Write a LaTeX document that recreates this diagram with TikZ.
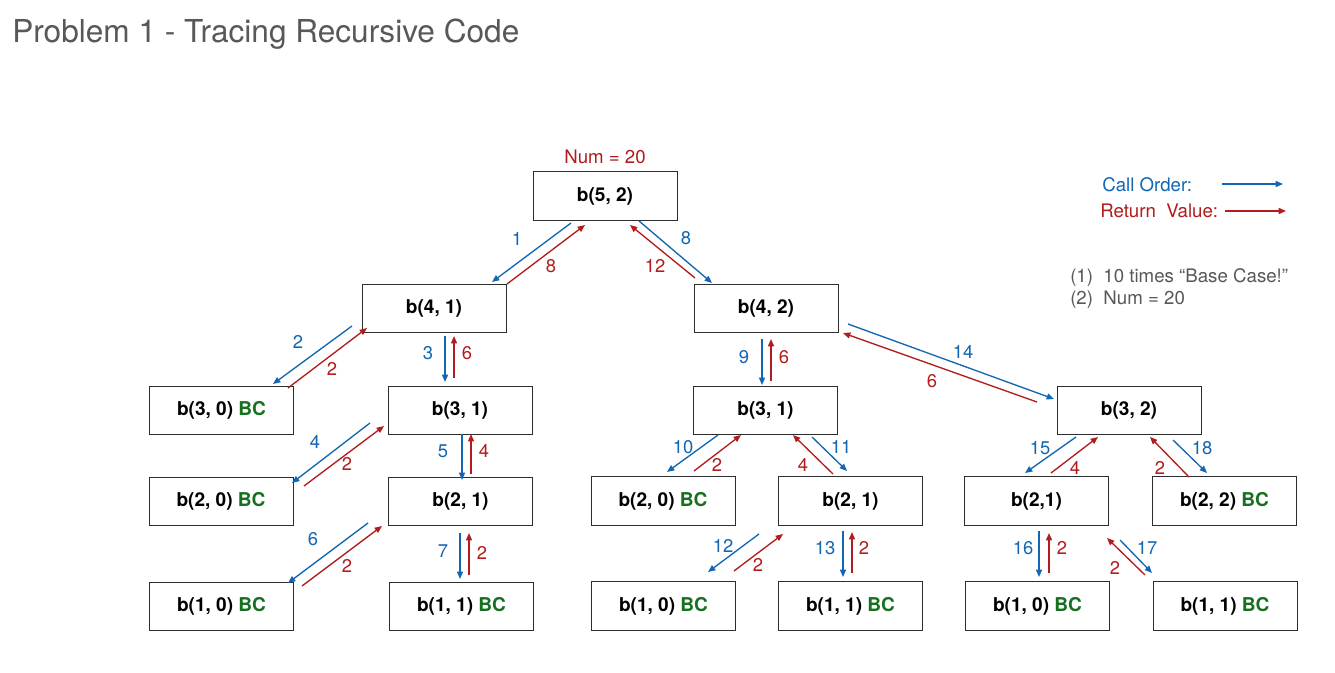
\documentclass[tikz,border=0pt]{standalone}
\usepackage{fontspec}
\setmainfont{TeX Gyre Heros}
\usetikzlibrary{arrows.meta}
\definecolor{cblue}{RGB}{18,102,178}
\definecolor{cred}{RGB}{178,28,28}
\definecolor{cgreen}{RGB}{22,112,32}
\definecolor{cgray}{RGB}{88,88,88}
\definecolor{cbox}{RGB}{45,45,45}
\newcommand\carrow[4]{\coordinate (#1s) at (#3); \coordinate (#1e) at (#4); \draw[#2] (#1s) -- (#1e);}
\newcommand\BC{\textcolor{cgreen}{BC}}
\begin{document}
\begin{tikzpicture}[x=0.75pt,y=-0.75pt,
  box/.style={draw=cbox,line width=0.75pt,minimum width=108pt,minimum height=36.5pt,inner sep=0pt,font=\bfseries\fontsize{14.3}{16}\selectfont},
  call/.style={draw=cblue,line width=1pt,-{Triangle[length=5.5pt,width=4.5pt]}},
  ret/.style={draw=cred,line width=1pt,-{Triangle[length=5.5pt,width=4.5pt]}},
  lb/.style={text=cblue,font=\fontsize{13.8}{15}\selectfont,inner sep=0pt},
  lr/.style={text=cred,font=\fontsize{13.8}{15}\selectfont,inner sep=0pt},
  note/.style={font=\fontsize{14}{16.5}\selectfont,inner sep=0pt,anchor=west}]
\useasboundingbox[fill=white] (0,0) rectangle (1335,673);
% title
\node[anchor=base west,inner sep=0pt,text=cgray,font=\fontsize{23.7}{26}\selectfont] (title) at (12,43) {Problem 1 - Tracing Recursive Code};
% legend
\node[note,text=cblue] (lcall) at (1102,185) {Call Order:};
\node[note,text=cred] (lret) at (1100,211) {Return\ \ Value:};
\carrow{lgc}{call}{1222,184}{1283,184}
\carrow{lgr}{ret}{1225,211}{1286,211}
\node[note,text=cgray,align=left,anchor=north west] (notes) at (1070,268) {(1)\ \ 10 times “Base Case!”\\(2)\ \ Num = 20};
% nodes
\node[box] (b52) at (605,196) {b(5, 2)};
\node[text=cred,font=\fontsize{14}{16}\selectfont,inner sep=0pt] (num) at (605,157) {Num = 20};
\node[box] (b41) at (434,308.5) {b(4, 1)};
\node[box] (b42) at (766,308.5) {b(4, 2)};
\node[box] (b30) at (221.5,410.5) {b(3, 0) \BC};
\node[box] (b31a) at (460,410.5) {b(3, 1)};
\node[box] (b31b) at (765.5,410.5) {b(3, 1)};
\node[box] (b32) at (1129,410.5) {b(3, 2)};
\node[box] (b20a) at (221,501.5) {b(2, 0) \BC};
\node[box] (b21a) at (460.5,501.5) {b(2, 1)};
\node[box] (b20b) at (663,501) {b(2, 0) \BC};
\node[box] (b21b) at (850.5,501) {b(2, 1)};
\node[box] (b21c) at (1036.5,501) {b(2,1)};
\node[box] (b22) at (1224.5,501) {b(2, 2) \BC};
\node[box] (b10a) at (221.5,606.5) {b(1, 0) \BC};
\node[box] (b11a) at (461.5,606.5) {b(1, 1) \BC};
\node[box] (b10b) at (663.5,606) {b(1, 0) \BC};
\node[box] (b11b) at (850.5,606) {b(1, 1) \BC};
\node[box] (b10c) at (1037.5,606) {b(1, 0) \BC};
\node[box] (b11c) at (1225,606) {b(1, 1) \BC};
% level 1
\carrow{a1}{call}{571,223}{492,282}  \node[lb] (t1) at (517,239) {1};
\carrow{r8}{ret}{507,284}{585,225}   \node[lr] (t8r) at (551,266) {8};
\carrow{a8}{call}{639,221}{712,283}  \node[lb] (t8) at (686,238) {8};
\carrow{r12}{ret}{695,278}{630,225}  \node[lr] (t12r) at (655,266) {12};
% level 2 left
\carrow{a3}{call}{445,336}{445,382}  \node[lb] (t3) at (428,353) {3};
\carrow{r6a}{ret}{454,378}{454,336}  \node[lr] (t6a) at (467,353) {6};
\carrow{a2}{call}{352,326}{273,384}  \node[lb] (t2) at (298,342) {2};
\carrow{r2a}{ret}{288,388}{367,328}  \node[lr] (t2a) at (332,369) {2};
% level 2 right
\carrow{a9}{call}{762,339}{762,385}  \node[lb] (t9) at (744,357) {9};
\carrow{r6b}{ret}{771,381}{771,339}  \node[lr] (t6b) at (784,357) {6};
\carrow{a14}{call}{848,324}{1054,399} \node[lb] (t14) at (963,352) {14};
\carrow{r6c}{ret}{1037,402}{843,333} \node[lr] (t6c) at (932,381) {6};
% left subtree
\carrow{a4}{call}{370,423}{292,483}  \node[lb] (t4) at (315,442) {4};
\carrow{r2b}{ret}{304,486}{384,426}  \node[lr] (t2b) at (347,464) {2};
\carrow{a5}{call}{462,434}{462,480}  \node[lb] (t5) at (443,451) {5};
\carrow{r4a}{ret}{471,474}{471,434}  \node[lr] (t4a) at (484,451) {4};
\carrow{a6}{call}{368,523}{288,583}  \node[lb] (t6) at (313,539) {6};
\carrow{r2c}{ret}{302,586}{382,526}  \node[lr] (t2c) at (347,566) {2};
\carrow{a7}{call}{460,533}{460,579}  \node[lb] (t7) at (443,551) {7};
\carrow{r2d}{ret}{469,575}{469,533}  \node[lr] (t2d) at (482,553) {2};
% middle subtree
\carrow{a10}{call}{718,435}{667,472} \node[lb] (t10) at (683,447) {10};
\carrow{r2e}{ret}{694,471}{741,435} \node[lr] (t2e) at (717,465) {2};
\carrow{r4b}{ret}{833,474}{793,435} \node[lr] (t4b) at (803,465) {4};
\carrow{a11}{call}{812,437}{847,471} \node[lb] (t11) at (841,447) {11};
\carrow{a12}{call}{759,534}{708,572} \node[lb] (t12) at (723,546) {12};
\carrow{r2f}{ret}{734,571}{783,534} \node[lr] (t2f) at (758,565) {2};
\carrow{a13}{call}{843,531}{843,577} \node[lb] (t13) at (825,548) {13};
\carrow{r2g}{ret}{852,573}{852,532} \node[lr] (t2g) at (864,548) {2};
% right subtree
\carrow{a15}{call}{1076,437}{1025,473} \node[lb] (t15) at (1040,448) {15};
\carrow{r4c}{ret}{1051,473}{1098,437} \node[lr] (t4c) at (1075,468) {4};
\carrow{r2h}{ret}{1189,477}{1150,437} \node[lr] (t2h) at (1160,468) {2};
\carrow{a18}{call}{1173,440}{1207,473} \node[lb] (t18) at (1202,448) {18};
\carrow{a16}{call}{1039,531}{1039,577} \node[lb] (t16) at (1023,548) {16};
\carrow{r2i}{ret}{1049,573}{1049,533} \node[lr] (t2i) at (1062,548) {2};
\carrow{r2j}{ret}{1145,575}{1107,538} \node[lr] (t2j) at (1115,568) {2};
\carrow{a17}{call}{1120,540}{1152,573} \node[lb] (t17) at (1147,548) {17};
\end{tikzpicture}
\end{document}
